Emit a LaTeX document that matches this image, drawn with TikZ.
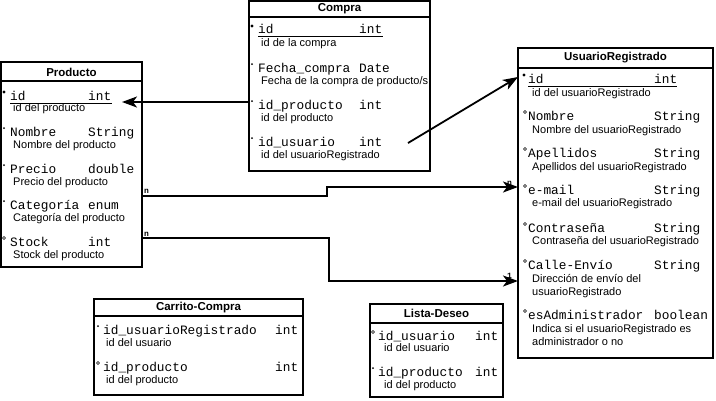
\documentclass[tikz,border=0pt]{standalone}
\usepackage{fontspec}
\setmainfont{Liberation Sans}
\newfontfamily\monof{Liberation Mono}
\usetikzlibrary{arrows.meta}
\tikzset{
  box/.style={draw, line width=2pt},
  sep/.style={line width=2pt},
  ttl/.style={font=\fontsize{11.5}{13}\selectfont\bfseries, anchor=center, inner sep=0pt},
  attr/.style={font=\monof\fontsize{12.8}{14}\selectfont, anchor=base west, inner sep=0pt},
  dsc/.style={font=\fontsize{11}{13}\selectfont, anchor=base west, inner sep=0pt},
  card/.style={font=\monof\bfseries\fontsize{8}{9}\selectfont, anchor=base west, inner sep=0pt},
  conn/.style={line width=1.8pt, -{Stealth[length=15pt,width=11pt,inset=4pt]}},
  pk/.style={line width=1pt},
  bigdot/.style={fill=black},
  opendot/.style={draw=black, line width=0.6pt},
}
\begin{document}
\begin{tikzpicture}[x=1pt,y=-1pt]
\useasboundingbox (0,0) rectangle (716,400);
\fill[white] (0,0) rectangle (716,400);

% ---------- Producto ----------
\draw[box] (1,62) rectangle (142,267);
\draw[sep] (1,81) -- (142,81);
\node[ttl] (pT) at (71.5,72) {Producto};
\node[attr] (p1) at (10,100) {id};        \node[attr] (p1t) at (88,100) {int};
\node[dsc]  (p1d) at (13,111) {id del producto};
\node[attr] (p2) at (10,136) {Nombre};    \node[attr] (p2t) at (88,136) {String};
\node[dsc]  (p2d) at (13,148) {Nombre del producto};
\node[attr] (p3) at (10,173) {Precio};    \node[attr] (p3t) at (88,173) {double};
\node[dsc]  (p3d) at (13,185) {Precio del producto};
\node[attr] (p4) at (10,209) {Categoría}; \node[attr] (p4t) at (88,209) {enum};
\node[dsc]  (p4d) at (13,221) {Categoría del producto};
\node[attr] (p5) at (10,246) {Stock};     \node[attr] (p5t) at (88,246) {int};
\node[dsc]  (p5d) at (13,258) {Stock del producto};
\draw[pk] (10,103) -- (112,103);
\fill[bigdot] (4,92) circle (1.6pt);
\fill[bigdot] (4,128) circle (1pt);
\fill[bigdot] (4,165) circle (1pt);
\fill[bigdot] (4,201) circle (1pt);
\draw[opendot] (4,238) circle (1.5pt);

% ---------- Compra ----------
\draw[box] (249,1) rectangle (430,171);
\draw[sep] (249,17) -- (430,17);
\node[ttl] (cT) at (339.5,9) {Compra};
\node[attr] (c1) at (258,33) {id};             \node[attr] (c1t) at (359,33) {int};
\node[dsc]  (c1d) at (261,46) {id de la compra};
\node[attr] (c2) at (258,72) {Fecha\_compra};  \node[attr] (c2t) at (359,72) {Date};
\node[dsc]  (c2d) at (261,84) {Fecha de la compra de producto/s};
\node[attr] (c3) at (258,109) {id\_producto};  \node[attr] (c3t) at (359,109) {int};
\node[dsc]  (c3d) at (261,121) {id del producto};
\node[attr] (c4) at (258,146) {id\_usuario};   \node[attr] (c4t) at (359,146) {int};
\node[dsc]  (c4d) at (261,158) {id del usuarioRegistrado};
\draw[pk] (258,36) -- (383,36);
\fill[bigdot] (252,26) circle (1.6pt);
\fill[bigdot] (252,64) circle (1pt);
\fill[bigdot] (252,101) circle (1pt);
\fill[bigdot] (252,138) circle (1pt);

% ---------- UsuarioRegistrado ----------
\draw[box] (518,48) rectangle (713,358);
\draw[sep] (518,68) -- (713,68);
\node[ttl] (uT) at (615.5,58) {UsuarioRegistrado};
\node[attr] (u1) at (528,83) {id};              \node[attr] (u1t) at (654,83) {int};
\node[dsc]  (u1d) at (532,96) {id del usuarioRegistrado};
\node[attr] (u2) at (528,120) {Nombre};         \node[attr] (u2t) at (654,120) {String};
\node[dsc]  (u2d) at (532,133) {Nombre del usuarioRegistrado};
\node[attr] (u3) at (528,157) {Apellidos};      \node[attr] (u3t) at (654,157) {String};
\node[dsc]  (u3d) at (532,170) {Apellidos del usuarioRegistrado};
\node[attr] (u4) at (528,194) {e-mail};         \node[attr] (u4t) at (654,194) {String};
\node[dsc]  (u4d) at (532,206) {e-mail del usuarioRegistrado};
\node[attr] (u5) at (528,232) {Contraseña};     \node[attr] (u5t) at (654,232) {String};
\node[dsc]  (u5d) at (532,244) {Contraseña del usuarioRegistrado};
\node[attr] (u6) at (528,269) {Calle-Envío};    \node[attr] (u6t) at (654,269) {String};
\node[dsc]  (u6d) at (532,282) {Dirección de envío del};
\node[dsc]  (u6e) at (532,295) {usuarioRegistrado};
\node[attr] (u7) at (528,319) {esAdministrador};\node[attr] (u7t) at (654,319) {boolean};
\node[dsc]  (u7d) at (532,332) {Indica si el usuarioRegistrado es};
\node[dsc]  (u7e) at (532,345) {administrador o no};
\draw[pk] (528,86) -- (677,86);
\fill[bigdot] (524,75) circle (1.6pt);
\draw[opendot] (525,112) circle (1.5pt);
\draw[opendot] (525,149) circle (1.5pt);
\draw[opendot] (525,186) circle (1.5pt);
\draw[opendot] (525,224) circle (1.5pt);
\draw[opendot] (525,261) circle (1.5pt);
\draw[opendot] (525,311) circle (1.5pt);

% ---------- Carrito-Compra ----------
\draw[box] (94,299) rectangle (303,395);
\draw[sep] (94,316) -- (303,316);
\node[ttl] (kT) at (198.5,307.5) {Carrito-Compra};
\node[attr] (k1) at (103,334) {id\_usuarioRegistrado}; \node[attr] (k1t) at (275,334) {int};
\node[dsc]  (k1d) at (106,346) {id del usuario};
\node[attr] (k2) at (103,371) {id\_producto};          \node[attr] (k2t) at (275,371) {int};
\node[dsc]  (k2d) at (106,383) {id del producto};
\fill[bigdot] (98,326) circle (1pt);
\draw[opendot] (98,363) circle (1.5pt);

% ---------- Lista-Deseo ----------
\draw[box] (370,304) rectangle (503,397);
\draw[sep] (370,323) -- (503,323);
\node[ttl] (lT) at (436.5,313.5) {Lista-Deseo};
\node[attr] (l1) at (378,340) {id\_usuario};  \node[attr] (l1t) at (475,340) {int};
\node[dsc]  (l1d) at (384,351) {id del usuario};
\node[attr] (l2) at (378,376) {id\_producto}; \node[attr] (l2t) at (475,376) {int};
\node[dsc]  (l2d) at (384,388) {id del producto};
\draw[opendot] (373,332) circle (1.5pt);
\fill[bigdot] (373,368) circle (1pt);

% ---------- cardinality labels ----------
\node[card] (n1) at (144,193) {n};
\node[card] (n2) at (144,236) {n};
\node[card] (n3) at (507,185) {n};
\node[card] (n4) at (507,278) {1};

% ---------- connectors ----------
\coordinate (a1s) at (249,102);
\coordinate (a1e) at (122,102);
\draw[conn] (a1s) -- (a1e);

\coordinate (a2s) at (408,143);
\coordinate (a2e) at (518,77);
\draw[conn] (a2s) -- (a2e);

\coordinate (a3s) at (142,196);
\coordinate (a3m) at (327,196);
\coordinate (a3n) at (327,187);
\coordinate (a3e) at (518,187);
\draw[conn] (a3s) -- (a3m) -- (a3n) -- (a3e);

\coordinate (a4s) at (142,238);
\coordinate (a4m) at (329,238);
\coordinate (a4n) at (329,281);
\coordinate (a4e) at (518,281);
\draw[conn] (a4s) -- (a4m) -- (a4n) -- (a4e);
\end{tikzpicture}
\end{document}
